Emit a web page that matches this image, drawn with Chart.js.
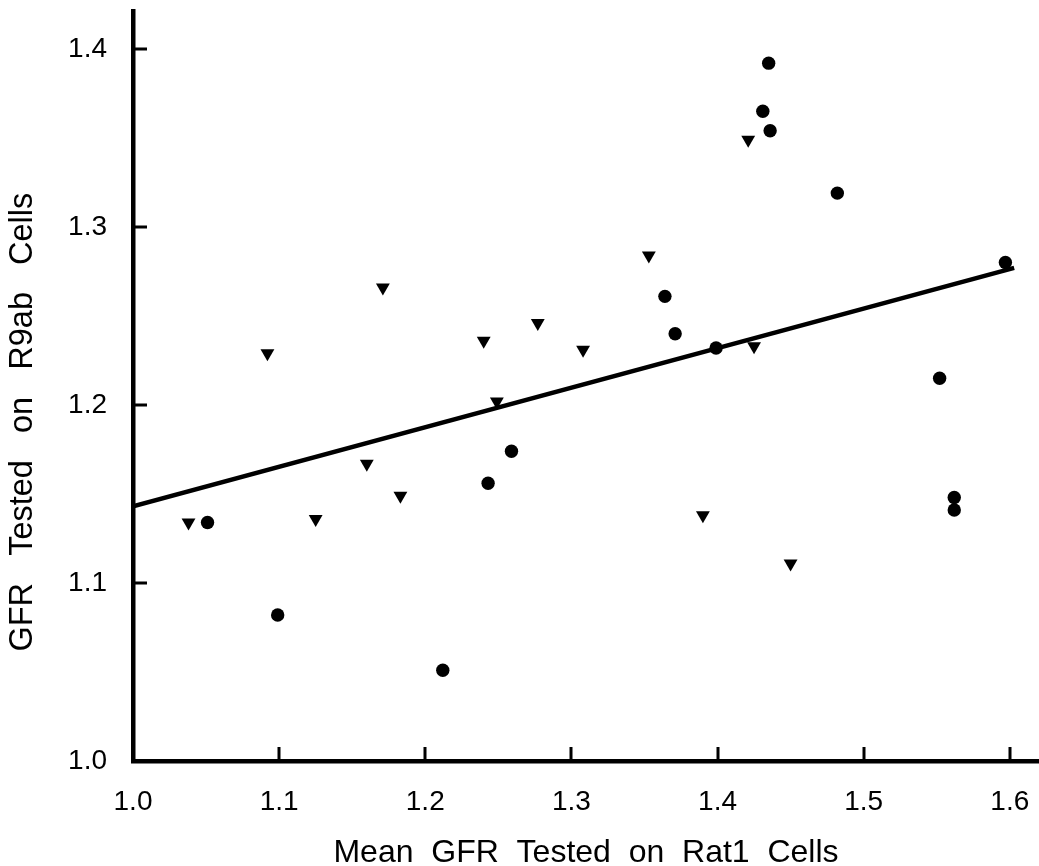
<!DOCTYPE html>
<html>
<head>
<meta charset="utf-8">
<script src="https://cdn.jsdelivr.net/npm/chart.js@4.4.1/dist/chart.umd.min.js"></script>
<style>
  html, body { margin: 0; padding: 0; background: #ffffff; }
  #wrap { width: 1039px; height: 866px; }
</style>
</head>
<body>
<div id="wrap"><canvas id="c" width="1039" height="866"></canvas></div>
<script>
// ---- data ----
const circleX = [1.051, 1.099, 1.212, 1.243, 1.259, 1.364, 1.371, 1.399, 1.431, 1.435, 1.436, 1.482, 1.597, 1.552, 1.562, 1.562];
const circleY = [1.134, 1.082, 1.051, 1.156, 1.174, 1.261, 1.240, 1.232, 1.365, 1.392, 1.354, 1.319, 1.280, 1.215, 1.148, 1.141];
const triangleX = [1.038, 1.092, 1.125, 1.160, 1.171, 1.183, 1.240, 1.249, 1.277, 1.308, 1.353, 1.390, 1.421, 1.425, 1.450];
const triangleY = [1.134, 1.229, 1.136, 1.167, 1.266, 1.149, 1.236, 1.202, 1.246, 1.231, 1.284, 1.138, 1.349, 1.233, 1.111];
const fitX = [1.0, 1.603];
const fitY = [1.143, 1.277];
const xTickValues = [1.0, 1.1, 1.2, 1.3, 1.4, 1.5, 1.6];
const yTickValues = [1.0, 1.1, 1.2, 1.3, 1.4];
const xTitleWords = ['Mean', 'GFR', 'Tested', 'on', 'Rat1', 'Cells'];
const yTitleWords = ['GFR', 'Tested', 'on', 'R9ab', 'Cells'];

const toPts = (xs, ys) => xs.map((x, i) => ({ x: x, y: ys[i] }));
const FONT = '"Liberation Sans", Arial, Helvetica, sans-serif';
const NB = '\u00a0';
const xTitle = xTitleWords.join(NB + NB);
// extra trailing spaces shift the rotated title down, as in the reference
const yTitle = yTitleWords.join(NB + NB + NB) + NB.repeat(8);

const inwardTicks = {
  id: 'inwardTicks',
  afterDraw(chart) {
    const ctx = chart.ctx;
    const xs = chart.scales.x, ys = chart.scales.y;
    const area = chart.chartArea;
    ctx.save();
    ctx.strokeStyle = '#000';
    ctx.lineWidth = 3;
    ctx.beginPath();
    xTickValues.slice(1).forEach(v => {
      const px = Math.round(xs.getPixelForValue(v));
      ctx.moveTo(px, area.bottom);
      ctx.lineTo(px, area.bottom - 14);
    });
    yTickValues.slice(1).forEach(v => {
      const py = Math.round(ys.getPixelForValue(v));
      ctx.moveTo(area.left, py);
      ctx.lineTo(area.left + 14, py);
    });
    ctx.stroke();
    ctx.restore();
  }
};

const zeroPad = s => { s.paddingTop = 0; s.paddingBottom = 0; s.paddingLeft = 0; s.paddingRight = 0; };

new Chart(document.getElementById('c'), {
  type: 'scatter',
  data: {
    datasets: [
      {
        label: 'fit',
        type: 'line',
        data: toPts(fitX, fitY),
        borderColor: '#000',
        borderWidth: 4.5,
        pointRadius: 0,
        fill: false,
        tension: 0
      },
      {
        label: 'circles',
        data: toPts(circleX, circleY),
        pointStyle: 'circle',
        pointRadius: 6.7,
        backgroundColor: '#000',
        borderColor: '#000',
        borderWidth: 0
      },
      {
        label: 'triangles',
        data: toPts(triangleX, triangleY),
        pointStyle: 'triangle',
        rotation: 180,
        pointRadius: 8,
        backgroundColor: '#000',
        borderColor: '#000',
        borderWidth: 0
      }
    ]
  },
  options: {
    responsive: false,
    animation: false,
    layout: { autoPadding: false, padding: { top: 11, right: 0, left: 0, bottom: 0 } },
    plugins: { legend: { display: false }, tooltip: { enabled: false } },
    scales: {
      x: {
        type: 'linear',
        min: 1.0,
        max: 1.62,
        afterBuildTicks: s => { s.ticks = xTickValues.map(v => ({ value: v })); },
        afterFit: s => { s.height = 105; zeroPad(s); },
        grid: { display: false },
        border: { display: true, color: '#000', width: 4.5 },
        ticks: {
          color: '#000',
          padding: 16,
          maxRotation: 0,
          font: { family: FONT, size: 28 },
          callback: v => Number(v).toFixed(1)
        },
        title: {
          display: true,
          text: xTitle,
          color: '#000',
          font: { family: FONT, size: 32, lineHeight: 0.78 },
          padding: 0
        }
      },
      y: {
        type: 'linear',
        min: 1.0,
        max: 1.4213,
        afterBuildTicks: s => { s.ticks = yTickValues.map(v => ({ value: v })); },
        afterFit: s => { s.width = 133; zeroPad(s); },
        grid: { display: false },
        border: { display: true, color: '#000', width: 4.5 },
        ticks: {
          color: '#000',
          padding: 18,
          font: { family: FONT, size: 28 },
          callback: v => Number(v).toFixed(1)
        },
        title: {
          display: true,
          text: yTitle,
          color: '#000',
          font: { family: FONT, size: 32.5, lineHeight: 1.4 },
          padding: 0
        }
      }
    }
  },
  plugins: [inwardTicks]
});
</script>
</body>
</html>
